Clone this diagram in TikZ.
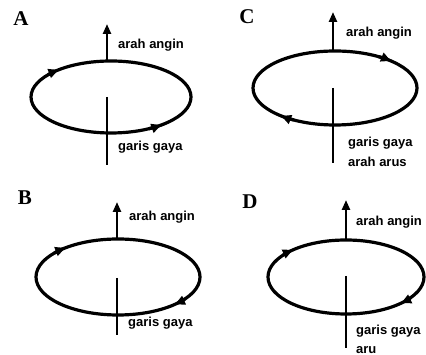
\documentclass[tikz,border=0pt]{standalone}
\usepackage{fontspec}
\setmainfont{Liberation Serif}
\newfontfamily\lblfont{Liberation Sans}
\usetikzlibrary{arrows.meta}
\tikzset{
  loop/.style={line width=3.2pt},
  looparrow/.style={line width=3.2pt,-{Triangle[length=10pt,width=9pt]}},
  upar/.style={line width=2.4pt,-{Triangle[length=10pt,width=8pt]}},
  gline/.style={line width=1.8pt},
  lbl/.style={font=\lblfont\bfseries\fontsize{13}{14}\selectfont,anchor=west,inner sep=0pt},
  letter/.style={font=\bfseries\fontsize{21}{22}\selectfont,inner sep=0pt}
}
\begin{document}
\begin{tikzpicture}[x=1pt,y=1pt]
\useasboundingbox (0,0) rectangle (426,355);
\clip (0,0) rectangle (426,355);
% ---------- A ----------
\node[letter] (la) at (21,336) {A};
\coordinate (ca) at (111,258);
\draw[loop] (ca) ellipse [x radius=80, y radius=36];
\draw[looparrow] (ca) ++(142:80 and 36) arc[start angle=142,end angle=131,x radius=80,y radius=36];
\draw[looparrow] (ca) ++(298:80 and 36) arc[start angle=298,end angle=309,x radius=80,y radius=36];
\coordinate (at) at (107,293);
\coordinate (ah) at (107,331);
\draw[upar] (at) -- (ah);
\coordinate (ga1) at (107,258);
\coordinate (ga2) at (107,190);
\draw[gline] (ga1) -- (ga2);
\node[lbl] (ta1) at (118,310) {arah angin};
\node[lbl] (ta2) at (118,208) {garis gaya};
% ---------- C ----------
\node[letter] (lc) at (247,338) {C};
\coordinate (cc) at (335,267);
\draw[loop] (cc) ellipse [x radius=82, y radius=37];
\draw[looparrow] (cc) ++(58:82 and 37) arc[start angle=58,end angle=47,x radius=82,y radius=37];
\draw[looparrow] (cc) ++(240:82 and 37) arc[start angle=240,end angle=229,x radius=82,y radius=37];
\coordinate (ct) at (333,303);
\coordinate (ch) at (333,343);
\draw[upar] (ct) -- (ch);
\coordinate (gc1) at (333,267);
\coordinate (gc2) at (333,192);
\draw[gline] (gc1) -- (gc2);
\node[lbl] (tc1) at (346,322) {arah angin};
\node[lbl] (tc2) at (348,212) {garis gaya};
\node[lbl] (tc3) at (348,193) {arah arus};
% ---------- B ----------
\node[letter] (lb) at (25,157) {B};
\coordinate (cb) at (118,78);
\draw[loop] (cb) ellipse [x radius=82, y radius=38];
\draw[looparrow] (cb) ++(141:82 and 38) arc[start angle=141,end angle=130,x radius=82,y radius=38];
\draw[looparrow] (cb) ++(325:82 and 38) arc[start angle=325,end angle=314,x radius=82,y radius=38];
\coordinate (bt) at (117,115);
\coordinate (bh) at (117,153);
\draw[upar] (bt) -- (bh);
\coordinate (gb1) at (117,77);
\coordinate (gb2) at (117,20);
\draw[gline] (gb1) -- (gb2);
\node[lbl] (tb1) at (129,138) {arah angin};
\node[lbl] (tb2) at (128,32) {garis gaya};
% ---------- D ----------
\node[letter] (ld) at (250,153) {D};
\coordinate (cd) at (346,78);
\draw[loop] (cd) ellipse [x radius=78, y radius=37];
\draw[looparrow] (cd) ++(144:78 and 37) arc[start angle=144,end angle=133,x radius=78,y radius=37];
\draw[looparrow] (cd) ++(326:78 and 37) arc[start angle=326,end angle=315,x radius=78,y radius=37];
\coordinate (dt) at (346,114);
\coordinate (dh) at (346,155);
\draw[upar] (dt) -- (dh);
\coordinate (gd1) at (346,79);
\coordinate (gd2) at (346,7);
\draw[gline] (gd1) -- (gd2);
\node[lbl] (td1) at (356,133) {arah angin};
\node[lbl] (td2) at (356,24) {garis gaya};
\node[lbl] (td3) at (356,5) {aru};
\end{tikzpicture}
\end{document}
